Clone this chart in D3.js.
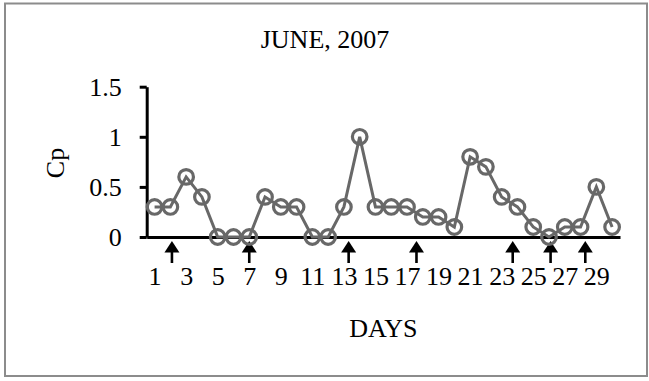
<!DOCTYPE html>
<html>
<head>
<meta charset="utf-8">
<script src="https://cdn.jsdelivr.net/npm/d3@7/dist/d3.min.js"></script>
<style>
  html, body { margin: 0; padding: 0; background: #fff; }
  svg { display: block; }
  text { font-family: "Liberation Serif", "Times New Roman", serif; fill: #000; }
</style>
</head>
<body>
<svg id="chart" width="649" height="381"></svg>
<script>
// Daily Cp readings for June 2007
const days = d3.range(1, 31);
const cpValues = [0.3, 0.3, 0.6, 0.4, 0, 0, 0, 0.4, 0.3, 0.3,
                  0, 0, 0.3, 1.0, 0.3, 0.3, 0.3, 0.2, 0.2, 0.1,
                  0.8, 0.7, 0.4, 0.3, 0.1, 0, 0.1, 0.1, 0.5, 0.1];
// Days flagged with an arrow below the axis
const arrowDays = [2.1, 7, 13.3, 17.6, 23.7, 26.1, 28.3];
const xTickLabels = d3.range(1, 30, 2);
const yTickValues = [0, 0.5, 1, 1.5];
const titleText = "JUNE, 2007";
const xTitle = "DAYS";
const yTitle = "Cp";

const svg = d3.select("#chart");
const fontSize = 26;

// outer frame
svg.append("rect")
  .attr("x", 5).attr("y", 3.5)
  .attr("width", 642).attr("height", 372.5)
  .attr("fill", "#fff")
  .attr("stroke", "#8c8c8c")
  .attr("stroke-width", 2);

const plot = { left: 146.7, right: 620, top: 86.7, bottom: 237 };

const x = d3.scaleLinear().domain([0.5, 30.5]).range([plot.left, plot.right]);
const y = d3.scaleLinear().domain([0, 1.5]).range([plot.bottom, plot.top]);

// title
svg.append("text")
  .attr("x", 325).attr("y", 48)
  .attr("text-anchor", "middle")
  .style("font-size", fontSize + "px")
  .text(titleText);

// y axis
const yAxis = svg.append("g")
  .attr("transform", `translate(${plot.left},0)`)
  .call(d3.axisLeft(y).tickValues(yTickValues).tickSize(7).tickSizeOuter(0).tickPadding(18)
    .tickFormat(d => String(d)));
yAxis.select(".domain").attr("stroke", "#000").attr("stroke-width", 3);
yAxis.selectAll(".tick line").attr("stroke", "#000").attr("stroke-width", 3);
yAxis.selectAll(".tick text")
  .style("font-size", fontSize + "px")
  .style("font-family", "'Liberation Serif', serif")
  .attr("fill", "#000");

// x axis (category labels, no tick marks)
const xAxis = svg.append("g")
  .attr("transform", `translate(0,${plot.bottom})`)
  .call(d3.axisBottom(x).tickValues(xTickLabels).tickSize(0).tickSizeOuter(0).tickPadding(0)
    .tickFormat(d => String(d)));
xAxis.select(".domain").attr("stroke", "#000").attr("stroke-width", 3);
xAxis.selectAll(".tick text")
  .attr("y", 48).attr("dy", null)
  .style("font-size", fontSize + "px")
  .style("font-family", "'Liberation Serif', serif")
  .attr("fill", "#000");

// axis titles
svg.append("text")
  .attr("x", (plot.left + plot.right) / 2).attr("y", 337)
  .attr("text-anchor", "middle")
  .style("font-size", fontSize + "px")
  .text(xTitle);

svg.append("text")
  .attr("transform", "translate(64,163) rotate(-90)")
  .attr("text-anchor", "middle")
  .style("font-size", fontSize + "px")
  .text(yTitle);

// arrows marking flagged days
const arrows = svg.append("g");
arrowDays.forEach(d => {
  const cx = x(d);
  arrows.append("line")
    .attr("x1", cx).attr("x2", cx)
    .attr("y1", 250).attr("y2", 263)
    .attr("stroke", "#000").attr("stroke-width", 2.6);
  arrows.append("path")
    .attr("d", `M${cx},241 L${cx - 7.5},252.5 L${cx + 7.5},252.5 Z`)
    .attr("fill", "#000");
});

// series line and hollow markers
const seriesColor = "#686868";
const line = d3.line().x((d, i) => x(days[i])).y(d => y(d));
svg.append("path")
  .datum(cpValues)
  .attr("d", line)
  .attr("fill", "none")
  .attr("stroke", seriesColor)
  .attr("stroke-width", 3);

svg.append("g").selectAll("circle")
  .data(cpValues)
  .join("circle")
  .attr("cx", (d, i) => x(days[i]))
  .attr("cy", d => y(d))
  .attr("r", 7.3)
  .attr("fill", "none")
  .attr("stroke", seriesColor)
  .attr("stroke-width", 3.2);
</script>
</body>
</html>
